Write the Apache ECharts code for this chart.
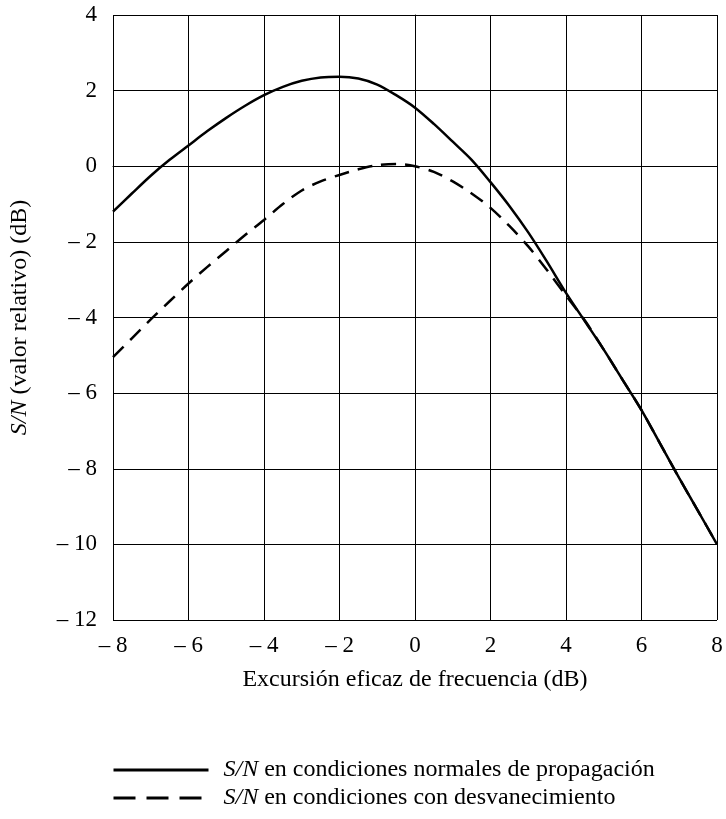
<!DOCTYPE html>
<html>
<head>
<meta charset="utf-8">
<script src="https://cdn.jsdelivr.net/npm/echarts@6/dist/echarts.min.js"></script>
<style>
  html, body { margin: 0; padding: 0; background: #fff; }
  #chart { width: 726px; height: 819px; }
</style>
</head>
<body>
<div id="chart"></div>
<script>
// frequency excursion (dB), 0.5 dB steps
const freqX = [-8, -7.5, -7, -6.5, -6, -5.5, -5, -4.5, -4, -3.5, -3, -2.5, -2, -1.5, -1, -0.5,
  0, 0.5, 1, 1.5, 2, 2.5, 3, 3.5, 4, 4.5, 5, 5.5, 6, 6.5, 7, 7.5, 8];

// S/N, normal propagation
const normalY = [-1.2, -0.72, -0.25, 0.17, 0.55, 0.93, 1.28, 1.6, 1.88, 2.1, 2.26, 2.35, 2.37, 2.32, 2.16, 1.88,
  1.55, 1.12, 0.65, 0.17, -0.42, -1.05, -1.75, -2.53, -3.35, -4.1, -4.85, -5.65, -6.45, -7.35, -8.25, -9.12, -10];

// S/N, with fading
const fadingY = [-5.05, -4.55, -4.05, -3.57, -3.1, -2.66, -2.24, -1.82, -1.42, -1.0, -0.64, -0.4, -0.23, -0.08, 0.03, 0.06,
  0.0, -0.15, -0.4, -0.72, -1.1, -1.58, -2.12, -2.75, -3.42, -4.08, -4.85, -5.65, -6.45, -7.35, -8.25, -9.12, -10];

const seriesNames = ['normal', 'fading'];
const legendText = {
  normal: 'en condiciones normales de propagación',
  fading: 'en condiciones con desvanecimiento'
};

const font = 'Liberation Serif';

function tickLabel(v) {
  return v < 0 ? '\u2013 ' + Math.abs(v) : String(v);
}

const chart = echarts.init(document.getElementById('chart'));
chart.setOption({
  animation: false,
  backgroundColor: '#fff',
  grid: { left: 113, right: 9, top: 15, bottom: 199, containLabel: false, outerBoundsMode: 'none' },
  legend: {
    orient: 'vertical',
    left: 107,
    top: 753,
    itemWidth: 95,
    itemHeight: 14,
    itemGap: 4,
    itemStyle: { opacity: 0 },
    data: [
      { name: seriesNames[0], lineStyle: { width: 3 } },
      { name: seriesNames[1], lineStyle: { width: 3, type: [22, 11] } }
    ],
    formatter: name => '{i|S/N} ' + legendText[name],
    textStyle: {
      fontFamily: font,
      fontSize: 24,
      color: '#000',
      padding: [0, 0, 0, 10],
      rich: {
        i: { fontFamily: font, fontSize: 24, fontStyle: 'italic', color: '#000' }
      }
    }
  },
  xAxis: {
    type: 'value',
    min: -8,
    max: 8,
    interval: 2,
    name: 'Excursión eficaz de frecuencia (dB)',
    nameLocation: 'middle',
    nameGap: 48,
    nameTextStyle: { fontFamily: font, fontSize: 24, color: '#000' },
    axisLine: { show: true, lineStyle: { color: '#000', width: 1 } },
    axisTick: { show: false },
    axisLabel: { fontFamily: font, fontSize: 23, color: '#000', margin: 14, formatter: tickLabel },
    splitLine: { show: true, lineStyle: { color: '#000', width: 1 } }
  },
  yAxis: {
    type: 'value',
    min: -12,
    max: 4,
    interval: 2,
    name: '{i|S/N} (valor relativo) (dB)',
    nameLocation: 'middle',
    nameGap: 81,
    nameTextStyle: {
      fontFamily: font, fontSize: 24, color: '#000',
      rich: { i: { fontFamily: font, fontSize: 24, fontStyle: 'italic', color: '#000' } }
    },
    axisLine: { show: true, lineStyle: { color: '#000', width: 1 } },
    axisTick: { show: false },
    axisLabel: { fontFamily: font, fontSize: 23, color: '#000', margin: 16, formatter: tickLabel },
    splitLine: { show: true, lineStyle: { color: '#000', width: 1 } }
  },
  series: [
    {
      name: seriesNames[0],
      type: 'line',
      smooth: 0.3,
      symbol: 'none',
      lineStyle: { color: '#000', width: 2.5 },
      itemStyle: { color: '#000' },
      data: freqX.map((x, i) => [x, normalY[i]])
    },
    {
      name: seriesNames[1],
      type: 'line',
      smooth: 0.3,
      symbol: 'none',
      lineStyle: { color: '#000', width: 2.5, type: [15, 9] },
      itemStyle: { color: '#000' },
      data: freqX.map((x, i) => [x, fadingY[i]])
    }
  ]
});
</script>
</body>
</html>
